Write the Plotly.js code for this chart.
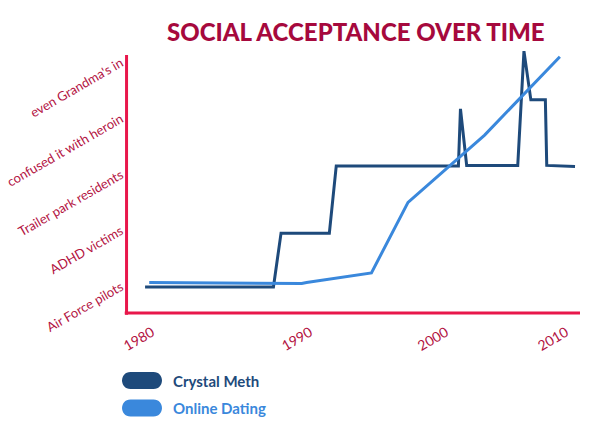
<!DOCTYPE html>
<html>
<head>
<meta charset="utf-8">
<script src="https://cdn.plot.ly/plotly-3.0.1.min.js"></script>
<style>
  html, body { margin: 0; padding: 0; background: #fff; }
  #chart { width: 600px; height: 430px; }
</style>
</head>
<body>
<div id="chart"></div>
<script>
// data (x in years, y in "acceptance levels" 1..5)
const methYears = [1979.5, 1988.8, 1989.35, 1992.85, 1993.35, 2002.2, 2002.35, 2002.8, 2006.5, 2006.95, 2007.45, 2008.5, 2008.6, 2010.65];
const methLevels = [0.98, 0.98, 1.94, 1.94, 3.14, 3.14, 4.16, 3.15, 3.15, 5.19, 4.32, 4.32, 3.15, 3.13];

const datingYears = [1979.8, 1990.85, 1991.2, 1995.9, 1998.55, 2004.1, 2009.55];
const datingLevels = [1.06, 1.04, 1.06, 1.23, 2.49, 3.69, 5.09];

const seriesNames = ["Crystal Meth", "Online Dating"];
const seriesColors = ["#1e4a7b", "#3a88dc"];

const yearTickPos = [1980, 1991.45, 2001.3, 2010];
const yearTickText = ["1980", "1990", "2000", "2010"];

const levelTickPos = [1, 2, 3, 4, 5];
const levelTickText = ["Air Force pilots", "ADHD victims", "Trailer park residents", "confused it with heroin", "even Grandma's in"];

const axisRed = "#e8174b";
const labelRed = "#b3123f";

const traces = [
  {
    x: methYears, y: methLevels, name: seriesNames[0],
    type: "scatter", mode: "lines",
    line: { color: seriesColors[0], width: 3 }
  },
  {
    x: datingYears, y: datingLevels, name: seriesNames[1],
    type: "scatter", mode: "lines",
    line: { color: seriesColors[1], width: 3 }
  }
];

// pill shaped legend keys + labels (drawn by hand to get the rounded keys)
const pill = "M 8.5 0 L 31.5 0 C 42.8 0 42.8 -17 31.5 -17 L 8.5 -17 C -2.8 -17 -2.8 0 8.5 0 Z";
const legendTops = [372, 399.5];

const shapes = [
  // y axis line, stops a little below the top of the plot like the reference
  { type: "line", xref: "paper", yref: "paper", x0: -0.001, x1: -0.001, y0: -0.006, y1: 0.945,
    line: { color: axisRed, width: 3 } },
  // x axis line
  { type: "line", xref: "paper", yref: "paper", x0: -0.005, x1: 1, y0: 0, y1: 0,
    line: { color: axisRed, width: 3 } }
];
const annotations = [];

legendTops.forEach((top, i) => {
  shapes.push({
    type: "path", xref: "paper", yref: "paper",
    xsizemode: "pixel", ysizemode: "pixel",
    xanchor: (122 - 127) / 453, yanchor: (313 - top) / 273,
    path: pill,
    fillcolor: seriesColors[i], line: { width: 0 }
  });
  annotations.push({
    xref: "paper", yref: "paper",
    x: (171 - 127) / 453, y: (313 - top - 8.5) / 273,
    xanchor: "left", yanchor: "middle", showarrow: false,
    text: seriesNames[i],
    font: { family: "Lato", size: 15, weight: 700, color: seriesColors[i] }
  });
});

const layout = {
  width: 600, height: 430,
  paper_bgcolor: "#fff", plot_bgcolor: "#fff",
  margin: { l: 127, r: 20, t: 40, b: 117 },
  showlegend: false,
  title: {
    text: "SOCIAL ACCEPTANCE OVER TIME",
    x: 0.593, xanchor: "center", y: 0.925, yanchor: "middle",
    font: { family: "Lato", size: 24, weight: 900, color: "#a6093d" }
  },
  xaxis: {
    range: [1978.19, 2011.01],
    showgrid: false, zeroline: false, showline: false,
    tickmode: "array", tickvals: yearTickPos, ticktext: yearTickText,
    tickangle: -30, ticks: "", ticklen: 0, ticklabelstandoff: 8,
    tickfont: { family: "Lato", size: 14, color: labelRed }
  },
  yaxis: {
    range: [0.514, 5.389],
    showgrid: false, zeroline: false, showline: false,
    tickmode: "array", tickvals: levelTickPos, ticktext: levelTickText,
    tickangle: -30, ticks: "", ticklen: 0, ticklabelstandoff: 5,
    tickfont: { family: "Lato", size: 13, color: labelRed }
  },
  shapes: shapes,
  annotations: annotations
};

Plotly.newPlot("chart", traces, layout, { displayModeBar: false, staticPlot: true });
</script>
</body>
</html>
